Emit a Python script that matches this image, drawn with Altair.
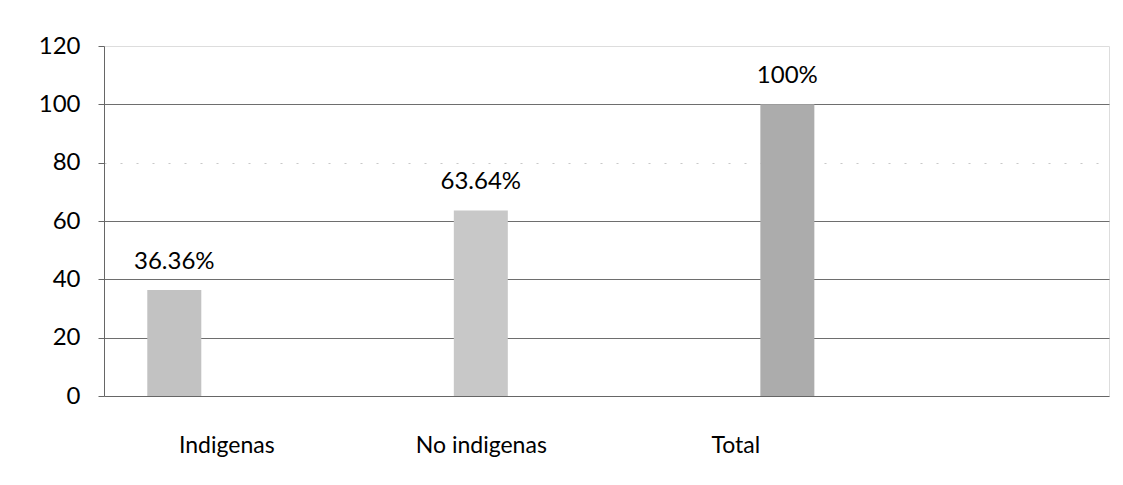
import altair as alt
import pandas as pd

categories = ["Indigenas", "No indigenas", "Total"]
values = [36.36, 63.64, 100]
labels = ["36.36%", "63.64%", "100%"]
positions_index = [1, 2, 3]
bar_colors = ["#c2c2c2", "#c8c8c8", "#acacac"]

df = pd.DataFrame({
    "idx": positions_index,
    "cat": categories,
    "value": values,
    "label": labels,
    "color": bar_colors,
})

FONT = "Lato"

x_scale = alt.Scale(domain=[0.787, 4.033], nice=False, zero=False)
y_scale = alt.Scale(domain=[0, 120], nice=False)

label_expr = "datum.value == 1 ? 'Indigenas' : datum.value == 2 ? 'No indigenas' : datum.value == 3 ? 'Total' : ''"

bars = alt.Chart(df).mark_bar(size=54).encode(
    x=alt.X("idx:Q", scale=x_scale,
            axis=alt.Axis(values=[1, 2, 3], labelExpr=label_expr, title=None,
                          grid=False, ticks=False, domain=True, domainColor="#666666",
                          labelFont=FONT, labelFontSize=23, labelColor="#000000",
                          labelPadding=38,
                          labelOffset={"condition": [
                              {"test": "datum.value == 1", "value": 52},
                              {"test": "datum.value == 3", "value": -52}],
                              "value": 0})),
    y=alt.Y("value:Q", scale=y_scale,
            axis=alt.Axis(values=[0, 20, 40, 60, 80, 100, 120], title=None,
                          grid=True,
                          gridColor={"condition": {"test": "datum.value == 80", "value": "#c8c8c8"}, "value": "#6e6e6e"},
                          gridOpacity={"condition": {"test": "datum.value == 120 || datum.value == 0", "value": 0}, "value": 1},
                          gridDash={"condition": {"test": "datum.value == 80", "value": [2, 14]}, "value": []},
                          gridWidth=1.2,
                          tickSize=6, tickColor="#666666", domainColor="#666666",
                          labelFont=FONT, labelFontSize=24, labelColor="#000000",
                          labelPadding=18)),
    color=alt.Color("color:N", scale=None),
)

text = alt.Chart(df).mark_text(font=FONT, fontSize=24, dy=-21, baseline="alphabetic", color="#000000").encode(
    x=alt.X("idx:Q", scale=x_scale),
    y=alt.Y("value:Q", scale=y_scale),
    text="label:N",
)

chart = alt.layer(bars, text).properties(
    width=1005,
    height=350,
    autosize=alt.AutoSizeParams(type="none"),
    padding={"left": 96, "top": 38, "right": 6, "bottom": 81},
).configure_view(stroke=None).configure(background="#ffffff")

chart.save("out.html", embed_options={"renderer": "svg", "actions": False})
